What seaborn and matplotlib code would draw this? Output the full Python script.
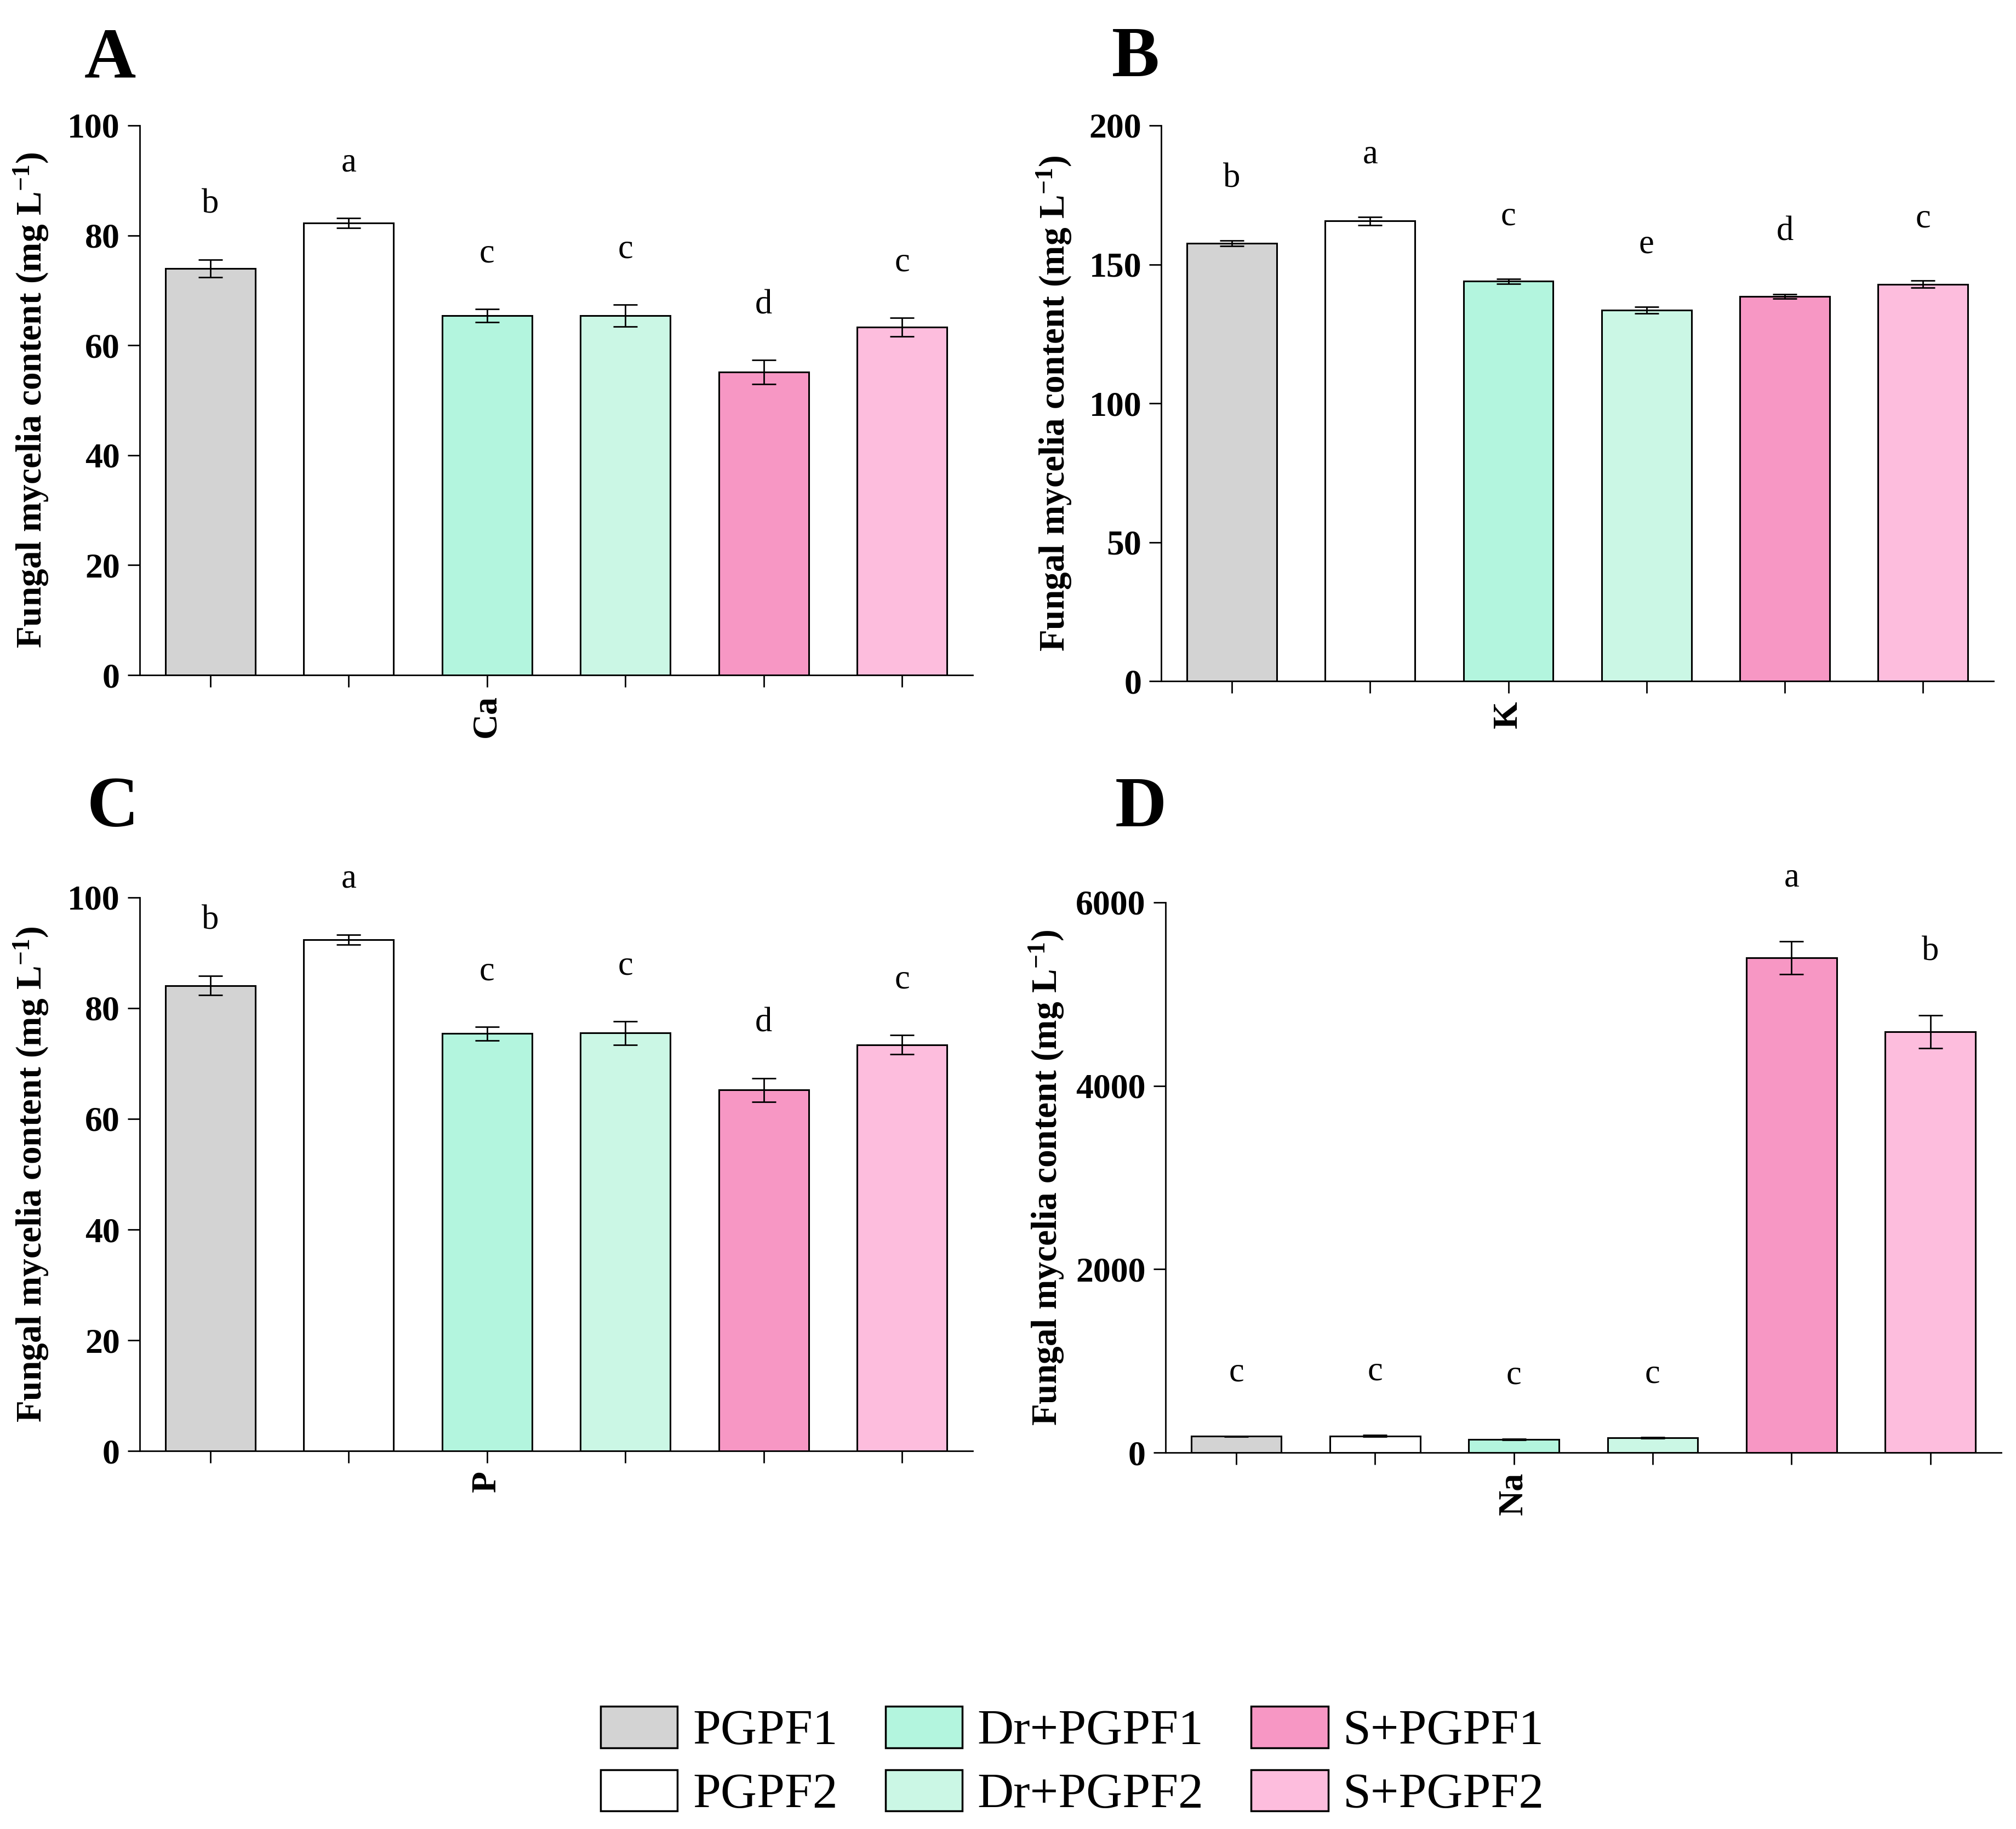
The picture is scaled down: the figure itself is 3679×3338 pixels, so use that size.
import numpy as np
import pandas as pd
import matplotlib
matplotlib.use('Agg')
import matplotlib.pyplot as plt
from matplotlib.patches import Patch
import seaborn as sns

# treatments and colours
treatments = ['PGPF1', 'PGPF2', 'Dr+PGPF1', 'Dr+PGPF2', 'S+PGPF1', 'S+PGPF2']
colors = ['#D3D3D3', '#FFFFFF', '#B3F5DE', '#CBF7E5', '#F797C4', '#FDBDDD']

# values (mean, error)
ca_mean = [74.0, 82.3, 65.4, 65.4, 55.1, 63.3]
ca_err = [1.6, 0.9, 1.2, 2.0, 2.2, 1.7]
ca_letters = ['b', 'a', 'c', 'c', 'd', 'c']

k_mean = [157.6, 165.6, 143.9, 133.6, 138.5, 142.9]
k_err = [0.9, 1.4, 0.9, 1.2, 0.8, 1.2]
k_letters = ['b', 'a', 'c', 'e', 'd', 'c']

p_mean = [84.1, 92.4, 75.4, 75.5, 65.2, 73.4]
p_err = [1.7, 0.9, 1.2, 2.1, 2.1, 1.7]
p_letters = ['b', 'a', 'c', 'c', 'd', 'c']

na_mean = [177, 182, 145, 160, 5395, 4590]
na_err = [5, 10, 5, 5, 180, 178]
na_letters = ['c', 'c', 'c', 'c', 'a', 'b']

sns.set_style('ticks')
plt.rcParams['font.family'] = ['Liberation Serif', 'DejaVu Serif']
plt.rcParams['mathtext.fontset'] = 'custom'
plt.rcParams['mathtext.rm'] = 'Liberation Serif:bold'
plt.rcParams['mathtext.bf'] = 'Liberation Serif:bold'
plt.rcParams['mathtext.it'] = 'Liberation Serif:bold'
plt.rcParams['text.color'] = 'black'
plt.rcParams['axes.labelcolor'] = 'black'
plt.rcParams['xtick.color'] = 'black'
plt.rcParams['ytick.color'] = 'black'

fig = plt.figure(figsize=(36.79, 33.38), dpi=100)

panels = [
    # label, element, mean, err, letters, ymax, step, rect, label x, letter offset, text pos
    ('A', 'Ca', ca_mean, ca_err, ca_letters, 100, 20, [0.0693, 0.6309, 0.4132, 0.3005], -0.107, 0.085, (0.0419, 0.9575)),
    ('B', 'K', k_mean, k_err, k_letters, 200, 50, [0.5761, 0.6276, 0.4127, 0.3038], -0.106, 0.097, (0.5515, 0.9584)),
    ('C', 'P', p_mean, p_err, p_letters, 100, 20, [0.0693, 0.2067, 0.4132, 0.3026], -0.107, 0.085, (0.0432, 0.5482)),
    ('D', 'Na', na_mean, na_err, na_letters, 6000, 2000, [0.5781, 0.2058, 0.4145, 0.3008], -0.119, 0.10, (0.5531, 0.5482)),
]

for lab, elem, mean, err, letters, ymax, step, rect, labx, off, tpos in panels:
    ax = fig.add_axes(rect)
    df = pd.DataFrame({'Treatment': treatments, 'Value': mean})
    sns.barplot(data=df, x='Treatment', y='Value', hue='Treatment', palette=colors,
                order=treatments, hue_order=treatments, width=0.65, errorbar=None,
                saturation=1, edgecolor='black', linewidth=2.2, legend=False, ax=ax)
    ax.errorbar(range(len(treatments)), mean, yerr=err, fmt='none', ecolor='black',
                elinewidth=2.0, capsize=16, capthick=2.0, zorder=5)
    for i, (m, e, t) in enumerate(zip(mean, err, letters)):
        ax.text(i, m + e + off * ymax, t, ha='center', va='baseline', fontsize=45)
    ax.set_xlim(-0.51, 5.51)
    ax.set_ylim(0, ymax)
    ax.set_yticks(np.arange(0, ymax + 1, step))
    ax.set_xticks(range(len(treatments)))
    ax.set_xticklabels(['', '', elem, '', '', ''], rotation=90, fontweight='bold', fontsize=46)
    for t in ax.get_yticklabels():
        t.set_fontweight('bold')
        t.set_fontsize(46)
    ax.tick_params(axis='both', length=16, width=2.0, pad=10, colors='black')
    ax.set_xlabel('')
    ax.set_ylabel('Fungal mycelia content (mg L$^{-1}$)', fontsize=47, fontweight='bold')
    ax.yaxis.set_label_coords(labx, 0.5)
    sns.despine(ax=ax)
    for s in ['left', 'bottom']:
        ax.spines[s].set_linewidth(2.0)
        ax.spines[s].set_color('black')
    fig.text(tpos[0], tpos[1], lab, fontsize=94, fontweight='bold', ha='left', va='baseline')

handles = [Patch(facecolor=c, edgecolor='black', linewidth=2.5, label=t) for c, t in zip(colors, treatments)]
fig.legend(handles=handles, loc='center', bbox_to_anchor=(0.532, 0.0365), ncol=3, frameon=False,
           fontsize=66, handlelength=1.53, handleheight=0.89, handletextpad=0.3,
           columnspacing=0.95, labelspacing=0.3)

fig.savefig('out.png', dpi=100)
